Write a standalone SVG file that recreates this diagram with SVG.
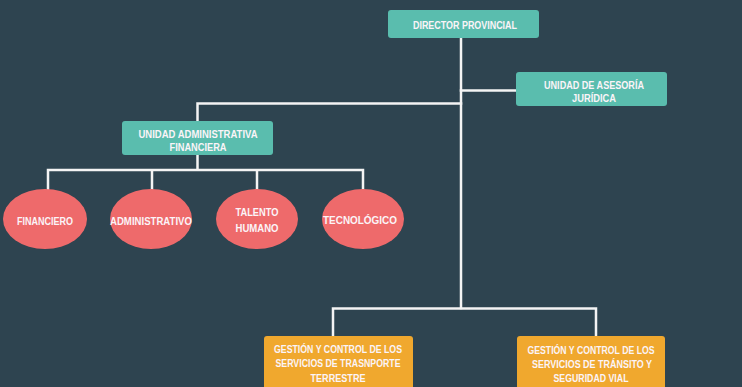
<svg xmlns="http://www.w3.org/2000/svg" width="742" height="387" viewBox="0 0 742 387">
<style>
.bg{fill:#2e4450}
.teal{fill:#5abdae}
.coral{fill:#ee6a6b}
.orange{fill:#f0a82e}
.ln{stroke:#f4f4f4;stroke-width:2.5;fill:none;stroke-linecap:square}
text{font-family:"Liberation Sans","DejaVu Sans",sans-serif;font-weight:bold;font-size:11.5px;fill:#fbf4f8;text-anchor:middle}
</style>
<rect class="bg" x="0" y="0" width="742" height="387"/>
<g id="connectors">
<path class="ln" d="M461 38 V308"/>
<path class="ln" d="M461 90.5 H516"/>
<path class="ln" d="M461 103.5 H197.5 V121"/>
<path class="ln" d="M197.5 155 V170 M48 170 H363 M48 170 V189 M152 170 V189 M257 170 V189 M363 170 V189"/>
<path class="ln" d="M333 336 V308.5 H596 V336"/>
</g>
<g id="director">
<rect class="teal" x="388" y="10" width="151" height="28" rx="3"/>
<text x="465" y="29" textLength="104" lengthAdjust="spacingAndGlyphs">DIRECTOR PROVINCIAL</text>
</g>
<g id="asesoria">
<rect class="teal" x="516" y="72" width="151" height="34" rx="3"/>
<text x="594" y="89" textLength="100" lengthAdjust="spacingAndGlyphs">UNIDAD DE ASESORÍA</text>
<text x="594" y="102" textLength="44" lengthAdjust="spacingAndGlyphs">JURÍDICA</text>
</g>
<g id="admin-fin">
<rect class="teal" x="122" y="121" width="151" height="34" rx="3"/>
<text x="198" y="138" textLength="119" lengthAdjust="spacingAndGlyphs">UNIDAD ADMINISTRATIVA</text>
<text x="198" y="151" textLength="57" lengthAdjust="spacingAndGlyphs">FINANCIERA</text>
</g>
<g id="financiero">
<ellipse class="coral" cx="45" cy="219" rx="42" ry="30"/>
<text x="45" y="225" textLength="56" lengthAdjust="spacingAndGlyphs">FINANCIERO</text>
</g>
<g id="administrativo">
<ellipse class="coral" cx="151" cy="219" rx="41" ry="30"/>
<text x="151" y="225" textLength="82" lengthAdjust="spacingAndGlyphs">ADMINISTRATIVO</text>
</g>
<g id="talento">
<ellipse class="coral" cx="257" cy="219" rx="41" ry="30"/>
<text x="257" y="216" textLength="43" lengthAdjust="spacingAndGlyphs">TALENTO</text>
<text x="257" y="232" textLength="43" lengthAdjust="spacingAndGlyphs">HUMANO</text>
</g>
<g id="tecnologico">
<ellipse class="coral" cx="363" cy="219" rx="41" ry="30"/>
<text x="360" y="224" textLength="74" lengthAdjust="spacingAndGlyphs">TECNOLÓGICO</text>
</g>
<g id="transporte">
<rect class="orange" x="264" y="336" width="149" height="56" rx="3"/>
<text x="338" y="353" textLength="128" lengthAdjust="spacingAndGlyphs">GESTIÓN Y CONTROL DE LOS</text>
<text x="338" y="367" textLength="125" lengthAdjust="spacingAndGlyphs">SERVICIOS DE TRASNPORTE</text>
<text x="338" y="382" textLength="55" lengthAdjust="spacingAndGlyphs">TERRESTRE</text>
</g>
<g id="transito">
<rect class="orange" x="517" y="336" width="148" height="56" rx="3"/>
<text x="591" y="354" textLength="127" lengthAdjust="spacingAndGlyphs">GESTIÓN Y CONTROL DE LOS</text>
<text x="592" y="368" textLength="120" lengthAdjust="spacingAndGlyphs">SERVICIOS DE TRÁNSITO Y</text>
<text x="591" y="382" textLength="75" lengthAdjust="spacingAndGlyphs">SEGURIDAD VIAL</text>
</g>
</svg>
